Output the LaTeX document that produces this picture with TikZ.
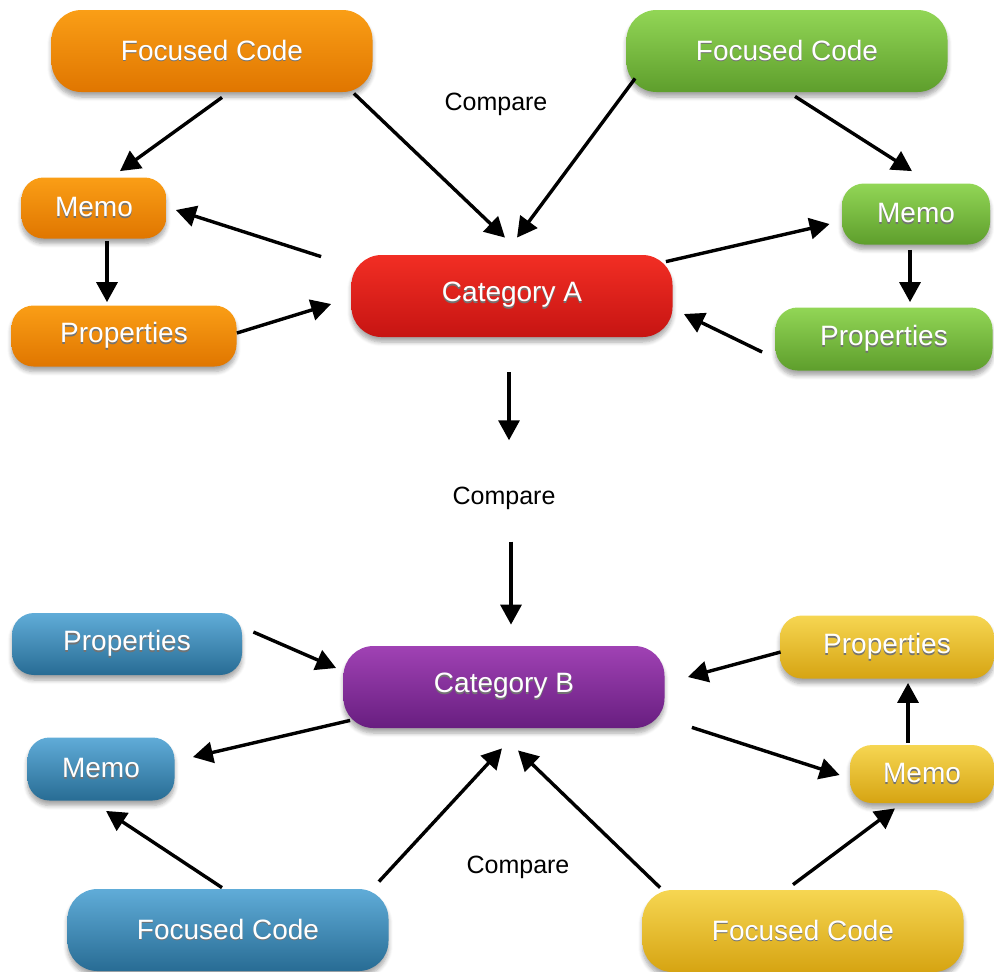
\documentclass[tikz,border=0pt]{standalone}
\usepackage{fontspec}
\setmainfont{Liberation Sans}
\usetikzlibrary{arrows.meta,shadows.blur}

% gradient colours of the glossy boxes (top / bottom)
\definecolor{orT}{RGB}{250,158,22}
\definecolor{orB}{RGB}{224,118,0}
\definecolor{grT}{RGB}{146,214,86}
\definecolor{grB}{RGB}{94,158,44}
\definecolor{rdT}{RGB}{242,46,36}
\definecolor{rdB}{RGB}{198,20,18}
\definecolor{puT}{RGB}{160,66,180}
\definecolor{puB}{RGB}{104,30,128}
\definecolor{blT}{RGB}{96,172,216}
\definecolor{blB}{RGB}{40,108,148}
\definecolor{yeT}{RGB}{246,214,82}
\definecolor{yeB}{RGB}{214,164,18}

% white label with a soft dark drop under it
\newcommand\txtsh[1]{\rlap{\raisebox{-0.9pt}{\textcolor{black!55}{#1}}}#1}

\tikzset{
  box/.style={rectangle, text=white, inner sep=0pt,
    font=\fontsize{14}{16}\selectfont,
    blur shadow={shadow xshift=0pt, shadow yshift=-2.5pt,
                 shadow blur steps=6, shadow opacity=35}},
  bigbox/.style={box, minimum width=160.5pt, minimum height=41pt, rounded corners=15pt},
  smallbox/.style={box, minimum height=30.5pt, rounded corners=11pt},
  orfill/.style={top color=orT, bottom color=orB},
  grfill/.style={top color=grT, bottom color=grB},
  rdfill/.style={top color=rdT, bottom color=rdB},
  pufill/.style={top color=puT, bottom color=puB},
  blfill/.style={top color=blT, bottom color=blB},
  yefill/.style={top color=yeT, bottom color=yeB},
  conn/.style={-{Triangle[length=10pt,width=10.5pt]}, line width=1.7pt},
  cmplabel/.style={font=\fontsize{12.5}{14}\selectfont, inner sep=1pt}
}

\begin{document}
\begin{tikzpicture}[x=0.5pt,y=-0.5pt]
\useasboundingbox (0,0) rectangle (994,971);

% ---- Category A cluster
\node[bigbox, orfill] (ofc) at (212,51) {\txtsh{Focused Code}};
\node[bigbox, grfill] (gfc) at (787,51) {\txtsh{Focused Code}};
\node[smallbox, orfill, minimum width=72.5pt] (om) at (94,208) {\txtsh{Memo}};
\node[smallbox, orfill, minimum width=112.5pt] (op) at (124,336) {\txtsh{Properties}};
\node[bigbox, rdfill] (ca) at (512,296) {\txtsh{Category A}};
\node[smallbox, grfill, minimum width=74pt] (gm) at (916,214) {\txtsh{Memo}};
\node[smallbox, grfill, minimum width=108.5pt, minimum height=31.5pt] (gp) at (884,339) {\txtsh{Properties}};
\node[cmplabel] (cmp1) at (496,104) {Compare};

% ---- middle
\node[cmplabel] (cmp2) at (504,498) {Compare};

% ---- Category B cluster
\node[bigbox, pufill] (cb) at (504,687) {\txtsh{Category B}};
\node[smallbox, blfill, minimum width=115pt, minimum height=31pt] (bp) at (127,644) {\txtsh{Properties}};
\node[smallbox, blfill, minimum width=73.5pt, minimum height=31.5pt] (bm) at (101,769) {\txtsh{Memo}};
\node[bigbox, blfill] (bfc) at (228,930) {\txtsh{Focused Code}};
\node[smallbox, yefill, minimum width=107pt, minimum height=31.5pt] (yp) at (887,647) {\txtsh{Properties}};
\node[smallbox, yefill, minimum width=72pt, minimum height=29pt] (ym) at (922,774) {\txtsh{Memo}};
\node[bigbox, yefill] (yfc) at (803,931) {\txtsh{Focused Code}};
\node[cmplabel] (cmp3) at (518,867) {Compare};

% ---- connectors, upper part
\draw[conn] ([shift={(10,5)}]ofc.south) -- ([shift={(26,-6)}]om.north);
\draw[conn] ([shift={(-19,1)}]ofc.south east) -- ([shift={(-7,-17)}]ca.north);
\draw[conn] ([shift={(9,-14)}]gfc.south west) -- ([shift={(5,-17)}]ca.north);
\draw[conn] ([shift={(8,4)}]gfc.south) -- ([shift={(-4,-12)}]gm.north);
\draw[conn] ([shift={(-30,2)}]ca.north west) -- ([shift={(9,2)}]om.east);
\draw[conn] ([shift={(13,2)}]om.south) -- ([shift={(-17,-3)}]op.north);
\draw[conn] ([shift={(0,-3)}]op.east) -- ([shift={(-20,8)}]ca.west);
\draw[conn] ([shift={(-7,7)}]ca.north east) -- ([shift={(-12,10)}]gm.west);
\draw[conn] ([shift={(-6,5)}]gm.south) -- ([shift={(26,-5)}]gp.north);
\draw[conn] ([shift={(-13,13)}]gp.west) -- ([shift={(11,18)}]ca.east);

% ---- connectors through the middle
\draw[conn] ([shift={(-3,35)}]ca.south) -- ([shift={(5,-44)}]cmp2.north);
\draw[conn] ([shift={(7,30)}]cmp2.south) -- ([shift={(7,-21)}]cb.north);

% ---- connectors, lower part
\draw[conn] ([shift={(11,-12)}]bp.east) -- ([shift={(-7,-19)}]cb.west);
\draw[conn] ([shift={(7,-8)}]cb.south west) -- ([shift={(18,-12)}]bm.east);
\draw[conn] ([shift={(-6,-1)}]bfc.north) -- ([shift={(5,10)}]bm.south);
\draw[conn] ([shift={(-10,-7)}]bfc.north east) -- ([shift={(-2,20)}]cb.south);
\draw[conn] ([shift={(18,-2)}]yfc.north west) -- ([shift={(14,22)}]cb.south);
\draw[conn] ([shift={(-10,-5)}]yfc.north) -- ([shift={(-27,5)}]ym.south);
\draw[conn] ([shift={(-14,-2)}]ym.north) -- ([shift={(21,4)}]yp.south);
\draw[conn] ([shift={(1,5)}]yp.west) -- ([shift={(23,-10)}]cb.east);
\draw[conn] ([shift={(27,-1)}]cb.south east) -- ([shift={(-10,1)}]ym.west);
\end{tikzpicture}
\end{document}
